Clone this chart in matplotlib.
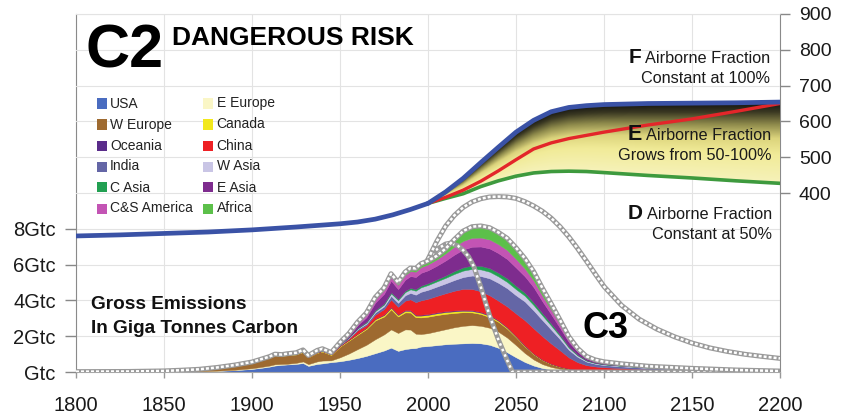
import numpy as np
import matplotlib
matplotlib.use("Agg")
import matplotlib.pyplot as plt
from matplotlib.colors import LinearSegmentedColormap
from matplotlib.patches import Rectangle, PathPatch

plt.rcParams['font.family'] = ['Liberation Sans', 'DejaVu Sans']

W, H = 846, 420

# --- emissions by region (GtC per year) ---
YEARS = [1800, 1830, 1850, 1860, 1870, 1880, 1890, 1900,
         1905, 1910, 1913, 1917, 1920, 1925, 1929, 1932,
         1937, 1940, 1945, 1950, 1955, 1960, 1965, 1970,
         1975, 1979, 1983, 1987, 1990, 1993, 1996, 2000,
         2005, 2010, 2015, 2020, 2025, 2030, 2035, 2040,
         2045, 2050, 2055, 2060, 2065, 2070, 2075, 2080,
         2085, 2090, 2095, 2100, 2110, 2125, 2150, 2175, 2200]

USA = [0.0, 0.002, 0.01, 0.02, 0.035, 0.06, 0.10, 0.17,
       0.23, 0.30, 0.36, 0.40, 0.42, 0.45, 0.50, 0.34,
       0.45, 0.48, 0.55, 0.60, 0.68, 0.78, 0.90, 1.05,
       1.20, 1.36, 1.18, 1.28, 1.32, 1.34, 1.42, 1.45,
       1.50, 1.55, 1.58, 1.60, 1.62, 1.60, 1.52, 1.35,
       1.10, 0.82, 0.56, 0.36, 0.22, 0.14, 0.09, 0.055,
       0.035, 0.022, 0.016, 0.013, 0.01, 0.007, 0.004, 0.002, 0.001]
E_EUROPE = [0.0, 0.0, 0.002, 0.004, 0.008, 0.015, 0.025, 0.04,
            0.05, 0.06, 0.07, 0.05, 0.04, 0.06, 0.09, 0.10,
            0.14, 0.16, 0.10, 0.22, 0.35, 0.50, 0.62, 0.78,
            0.90, 1.02, 1.00, 1.10, 1.05, 0.80, 0.70, 0.72,
            0.78, 0.84, 0.92, 0.98, 1.00, 0.98, 0.95, 0.90,
            0.82, 0.68, 0.50, 0.34, 0.22, 0.14, 0.09, 0.055,
            0.035, 0.022, 0.015, 0.011, 0.008, 0.005, 0.003, 0.002, 0.001]
W_EUROPE = [0.02, 0.028, 0.048, 0.076, 0.105, 0.17, 0.245, 0.32,
            0.39, 0.45, 0.50, 0.45, 0.48, 0.47, 0.53, 0.38,
            0.48, 0.50, 0.30, 0.60, 0.72, 0.80, 0.88, 1.05,
            1.00, 1.12, 0.92, 0.95, 0.95, 0.92, 0.93, 0.92,
            0.90, 0.86, 0.80, 0.76, 0.71, 0.66, 0.60, 0.55,
            0.50, 0.44, 0.37, 0.29, 0.22, 0.16, 0.11, 0.07,
            0.045, 0.03, 0.022, 0.017, 0.012, 0.008, 0.005, 0.003, 0.001]
CANADA = [0.0, 0.0, 0.0, 0.001, 0.002, 0.003, 0.005, 0.008,
          0.01, 0.015, 0.02, 0.02, 0.02, 0.02, 0.025, 0.02,
          0.022, 0.025, 0.03, 0.035, 0.04, 0.05, 0.06, 0.07,
          0.08, 0.09, 0.08, 0.09, 0.09, 0.09, 0.10, 0.10,
          0.10, 0.10, 0.09, 0.085, 0.08, 0.075, 0.07, 0.06,
          0.05, 0.04, 0.03, 0.022, 0.016, 0.011, 0.008, 0.005,
          0.003, 0.002, 0.001, 0.001, 0.001, 0.0, 0.0, 0.0, 0.0]
OCEANIA = [0.0, 0.0, 0.0, 0.0, 0.001, 0.002, 0.003, 0.004,
           0.005, 0.006, 0.007, 0.007, 0.008, 0.009, 0.01, 0.008,
           0.01, 0.011, 0.011, 0.015, 0.018, 0.02, 0.025, 0.03,
           0.035, 0.04, 0.042, 0.045, 0.048, 0.05, 0.05, 0.05,
           0.05, 0.05, 0.05, 0.05, 0.048, 0.045, 0.042, 0.04,
           0.038, 0.035, 0.03, 0.025, 0.02, 0.015, 0.011, 0.008,
           0.006, 0.005, 0.004, 0.004, 0.003, 0.002, 0.002, 0.001, 0.001]
CHINA = [0.0, 0.0, 0.0, 0.0, 0.0, 0.0, 0.0, 0.001,
         0.002, 0.003, 0.004, 0.005, 0.006, 0.007, 0.008, 0.008,
         0.012, 0.015, 0.01, 0.02, 0.06, 0.18, 0.13, 0.22,
         0.30, 0.42, 0.42, 0.52, 0.60, 0.70, 0.80, 0.85,
         0.92, 1.00, 1.10, 1.17, 1.18, 1.15, 1.10, 1.08,
         1.15, 1.25, 1.40, 1.40, 1.30, 1.12, 0.90, 0.62,
         0.42, 0.30, 0.25, 0.22, 0.18, 0.13, 0.08, 0.045, 0.02]
INDIA = [0.0, 0.0, 0.0, 0.0, 0.0, 0.0, 0.002, 0.004,
         0.005, 0.006, 0.007, 0.008, 0.009, 0.01, 0.012, 0.012,
         0.014, 0.016, 0.02, 0.025, 0.04, 0.06, 0.085, 0.12,
         0.15, 0.20, 0.22, 0.30, 0.36, 0.42, 0.48, 0.50,
         0.52, 0.55, 0.60, 0.66, 0.75, 0.85, 0.95, 1.00,
         1.02, 1.02, 1.05, 1.00, 0.90, 0.78, 0.62, 0.42,
         0.30, 0.20, 0.15, 0.12, 0.10, 0.07, 0.045, 0.025, 0.012]
W_ASIA = [0.0, 0.0, 0.0, 0.0, 0.0, 0.0, 0.0, 0.0,
          0.0, 0.0, 0.001, 0.001, 0.002, 0.003, 0.004, 0.004,
          0.005, 0.006, 0.006, 0.01, 0.02, 0.04, 0.06, 0.08,
          0.10, 0.14, 0.15, 0.18, 0.20, 0.22, 0.25, 0.27,
          0.29, 0.31, 0.34, 0.36, 0.37, 0.37, 0.37, 0.36,
          0.35, 0.34, 0.32, 0.30, 0.26, 0.22, 0.17, 0.12,
          0.08, 0.05, 0.04, 0.035, 0.028, 0.02, 0.013, 0.007, 0.004]
C_ASIA = [0.0, 0.0, 0.0, 0.0, 0.0, 0.0, 0.0, 0.0,
          0.0, 0.0, 0.0, 0.001, 0.002, 0.003, 0.004, 0.004,
          0.006, 0.008, 0.006, 0.01, 0.02, 0.03, 0.04, 0.05,
          0.055, 0.06, 0.065, 0.07, 0.08, 0.085, 0.09, 0.10,
          0.11, 0.13, 0.16, 0.18, 0.19, 0.20, 0.20, 0.20,
          0.20, 0.19, 0.17, 0.15, 0.13, 0.11, 0.08, 0.06,
          0.04, 0.025, 0.02, 0.017, 0.013, 0.009, 0.006, 0.003, 0.002]
E_ASIA = [0.0, 0.0, 0.0, 0.0, 0.0, 0.0, 0.002, 0.004,
          0.006, 0.008, 0.01, 0.012, 0.012, 0.015, 0.02, 0.02,
          0.03, 0.035, 0.01, 0.04, 0.08, 0.15, 0.26, 0.42,
          0.55, 0.65, 0.55, 0.62, 0.66, 0.68, 0.72, 0.72,
          0.77, 0.84, 0.92, 1.00, 1.05, 1.08, 1.10, 1.10,
          1.08, 1.02, 0.92, 0.85, 0.66, 0.52, 0.38, 0.26,
          0.17, 0.10, 0.07, 0.058, 0.045, 0.032, 0.02, 0.011, 0.005]
CS_AMERICA = [0.0, 0.0, 0.0, 0.0, 0.0, 0.001, 0.003, 0.005,
              0.008, 0.01, 0.012, 0.012, 0.015, 0.018, 0.022, 0.02,
              0.025, 0.03, 0.03, 0.05, 0.08, 0.12, 0.16, 0.20,
              0.22, 0.26, 0.24, 0.27, 0.28, 0.30, 0.32, 0.33,
              0.35, 0.40, 0.45, 0.48, 0.50, 0.50, 0.50, 0.50,
              0.50, 0.48, 0.43, 0.38, 0.32, 0.26, 0.19, 0.13,
              0.08, 0.05, 0.04, 0.033, 0.026, 0.018, 0.011, 0.006, 0.003]
AFRICA = [0.0, 0.0, 0.0, 0.0, 0.0, 0.0, 0.001, 0.003,
          0.004, 0.005, 0.006, 0.006, 0.007, 0.008, 0.01, 0.01,
          0.012, 0.014, 0.015, 0.03, 0.04, 0.06, 0.08, 0.10,
          0.11, 0.13, 0.14, 0.16, 0.17, 0.18, 0.19, 0.20,
          0.20, 0.26, 0.40, 0.55, 0.62, 0.65, 0.66, 0.66,
          0.66, 0.63, 0.57, 0.50, 0.42, 0.34, 0.26, 0.18,
          0.11, 0.07, 0.05, 0.042, 0.032, 0.022, 0.014, 0.007, 0.003]

REGIONS = ["USA", "E Europe", "W Europe", "Canada", "Oceania", "China",
           "India", "W Asia", "C Asia", "E Asia", "C&S America", "Africa"]
SERIES = [USA, E_EUROPE, W_EUROPE, CANADA, OCEANIA, CHINA,
          INDIA, W_ASIA, C_ASIA, E_ASIA, CS_AMERICA, AFRICA]
COLORS = ["#4A6CC0", "#FAF6C6", "#9E6A30", "#F2E81C", "#5A2C8A", "#EE2024",
          "#6466A6", "#C9C5E5", "#22A052", "#7E2C8E", "#C354B4", "#5CC04A"]

# alternative emission paths (GtC)
B_YEARS = [2000, 2005, 2010, 2015, 2020, 2025, 2030, 2035, 2040, 2045, 2050,
           2055, 2060, 2065, 2070, 2075, 2080, 2085, 2090, 2095, 2100,
           2110, 2120, 2130, 2140, 2150, 2160, 2170, 2180, 2190, 2200]
B_EMIS = [6.3, 7.3, 8.15, 8.75, 9.2, 9.5, 9.68, 9.78, 9.8, 9.78, 9.7,
          9.52, 9.28, 8.98, 8.6, 8.12, 7.55, 6.9, 6.2, 5.48, 4.78,
          3.72, 2.95, 2.4, 1.97, 1.62, 1.35, 1.15, 0.99, 0.87, 0.76]
C_YEARS = [2000, 2005, 2010, 2013, 2017, 2020, 2023, 2026, 2030, 2035,
           2040, 2045, 2048, 2200]
C_EMIS = [6.3, 6.85, 7.15, 7.2, 7.05, 6.8, 6.45, 5.9, 4.75, 3.15,
          1.8, 0.65, 0.0, 0.0]

# --- CO2 concentration (ppm) ---
CO2_HIST_YEARS = [1800, 1825, 1850, 1875, 1900, 1925, 1950, 1960, 1970,
                  1980, 1990, 2000]
CO2_HIST = [280, 283, 287, 291, 297, 305, 314, 319, 327, 339, 354, 371]
CO2_YEARS = [2000, 2010, 2020, 2030, 2040, 2050, 2060, 2070, 2080, 2090,
             2100, 2125, 2150, 2175, 2200]
CO2_F = [371, 403, 441, 485, 528, 570, 603, 627, 639, 644, 647, 650, 651, 652, 654]
CO2_E = [371, 388, 408, 433, 462, 493, 523, 540, 552, 561, 570, 590, 607, 628, 650]
CO2_D = [371, 385, 398, 418, 434, 447, 456, 460, 461, 460, 457, 449, 442, 434, 427]


def fx(x):
    return x / W


def fy(y):
    return 1 - y / H


def rope(ax, x, y, dots=(0, (1.2, 0.8)), z=4):
    ax.plot(x, y, color="#9A9A9A", lw=3.6, solid_capstyle="round", zorder=z)
    ax.plot(x, y, color="white", lw=1.8, ls=dots, zorder=z + 0.1)


fig = plt.figure(figsize=(W / 100, H / 100), dpi=100)
fig.patch.set_facecolor("white")
rect = [fx(76), 48 / H, 704 / W, 358 / H]
ax = fig.add_axes(rect)
ax.set_xlim(1800, 2200)
ax.set_ylim(0, 20)

# left axis: emissions
ax.set_xticks(np.arange(1800, 2201, 50))
ax.set_yticks([0, 2, 4, 6, 8])
ax.set_yticklabels(["Gtc", "2Gtc", "4Gtc", "6Gtc", "8Gtc"])
ax.grid(True, color="#E3E3E3", lw=0.8, zorder=0)
ax.set_axisbelow(True)
ax.yaxis.set_ticks_position("left")
ax.tick_params(axis="y", which="minor", left=False, right=False)
ax.tick_params(axis="y", length=8, width=1, color="#888888", pad=6.5,
               labelsize=14.5, labelcolor="#1A1A1A")
ax.tick_params(axis="x", length=4, width=1, color="#999999", pad=13,
               labelsize=14.5, labelcolor="#1A1A1A")
for side, col in [("left", "#8A8A8A"), ("bottom", "#A8A8A8"),
                  ("top", "#E0E0E0"), ("right", "#8A8A8A")]:
    ax.spines[side].set_color(col)

# stacked emissions
ax.stackplot(YEARS, *SERIES, colors=COLORS, edgecolor="face", lw=0.3, zorder=2)
total = np.sum(np.array(SERIES), axis=0)
rope(ax, C_YEARS, C_EMIS, dots=(0, (1.0, 1.4)), z=4)
rope(ax, B_YEARS, B_EMIS, z=4.5)
rope(ax, YEARS, total, z=5)

# right axis: CO2 concentration, separate overlay axes
ax2 = fig.add_axes(rect, frameon=False)
ax2.patch.set_visible(False)
ax2.set_xlim(1800, 2200)
ax2.set_ylim(-100, 900)
ax2.xaxis.set_visible(False)
ax2.yaxis.tick_right()
ax2.set_yticks([400, 500, 600, 700, 800, 900])
ax2.tick_params(axis="y", which="both", left=False, labelleft=False)
ax2.tick_params(axis="y", length=7, width=1, color="#888888", pad=6.5,
                labelsize=14, labelcolor="#1A1A1A")
ax2.grid(True, axis="y", color="#E3E3E3", lw=0.8)
ax2.set_axisbelow(True)

cmap = LinearSegmentedColormap.from_list("band", [
    (0.0, "#F6F2BA"), (0.35, "#F1EB98"), (0.55, "#DCD47C"),
    (0.72, "#8F8B4C"), (0.88, "#3A3822"), (1.0, "#121210")])
gx = np.linspace(2000, 2200, 600)
gy = np.linspace(360, 670, 400)
top = np.interp(gx, CO2_YEARS, CO2_F)
bot = np.interp(gx, CO2_YEARS, CO2_D)
span = np.where(top - bot > 0.5, top - bot, 0.5)
frac = np.clip((gy[:, None] - bot[None, :]) / span[None, :], 0, 1)
im = ax2.imshow(frac, extent=[2000, 2200, 360, 670], origin="lower",
                cmap=cmap, aspect="auto", zorder=1, interpolation="bilinear")
band = ax2.fill_between(CO2_YEARS, CO2_D, CO2_F, facecolor="none",
                        edgecolor="none")
clip = PathPatch(band.get_paths()[0], transform=ax2.transData,
                 facecolor="none", edgecolor="none")
ax2.add_patch(clip)
im.set_clip_path(clip)
ax2.set_xlim(1800, 2200)
ax2.set_ylim(-100, 900)

ax2.plot(CO2_YEARS, CO2_D, color="#3E9A3E", lw=2.6, zorder=2)
ax2.plot(CO2_YEARS, CO2_E, color="#E3262A", lw=2.4, zorder=3)
ax2.plot(CO2_HIST_YEARS, CO2_HIST, color="#3A52A6", lw=3.4, zorder=4,
         solid_capstyle="round")
ax2.plot(CO2_YEARS, CO2_F, color="#3A52A6", lw=3.4, zorder=4,
         solid_capstyle="round")

# titles and labels
fig.text(fx(86), fy(68), "C2", fontsize=44, fontweight="bold", va="baseline")
fig.text(fx(172), fy(45), "DANGEROUS RISK", fontsize=19, fontweight="bold",
         va="baseline")
fig.text(fx(91), fy(309), "Gross Emissions", fontsize=13.7, fontweight="bold",
         va="baseline", color="#111111")
fig.text(fx(91), fy(333), "In Giga Tonnes Carbon", fontsize=13.7,
         fontweight="bold", va="baseline", color="#111111")
fig.text(fx(582), fy(338), "C3", fontsize=26, fontweight="bold", va="baseline")

# legend, row by row
for i, (name, col) in enumerate(zip(REGIONS, COLORS)):
    r, c = divmod(i, 2)
    x0 = 96.5 if c == 0 else 203
    yc = 103.5 + 21 * r
    fig.patches.append(Rectangle((fx(x0), fy(yc + 5)), 10 / W, 10 / H,
                                 transform=fig.transFigure, facecolor=col,
                                 edgecolor="none"))
    fig.text(fx(x0 + 13.5), fy(yc), name, fontsize=10, va="center",
             color="#222222")

renderer = fig.canvas.get_renderer()


def fraction_note(letter, line1, line2, xr, yb1, yb2, size):
    t = fig.text(fx(xr), fy(yb1), line1, fontsize=11.7, ha="right",
                 va="baseline", color="#1A1A1A")
    fig.text(fx(xr), fy(yb2), line2, fontsize=11.7, ha="right",
             va="baseline", color="#1A1A1A")
    bb = t.get_window_extent(renderer)
    fig.text(fx(bb.x0 - 4), fy(yb1), letter, fontsize=size,
             fontweight="bold", ha="right", va="baseline", color="#111111")


fraction_note("F", "Airborne Fraction", "Constant at 100%", 770, 63, 83, 15)
fraction_note("E", "Airborne Fraction", "Grows from 50-100%", 771, 140, 160, 15.5)
fraction_note("D", "Airborne Fraction", "Constant at 50%", 772, 219, 239, 15)

fig.savefig("out.png", dpi=100, facecolor="white")
